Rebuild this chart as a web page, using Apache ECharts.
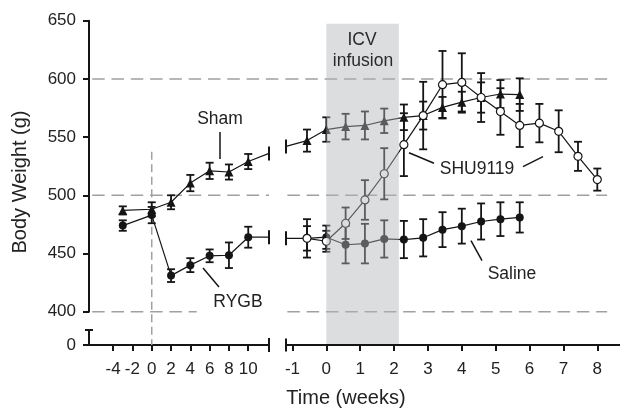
<!DOCTYPE html>
<html><head><meta charset="utf-8">
<script src="https://cdn.jsdelivr.net/npm/echarts@6/dist/echarts.min.js"></script>
<style>html,body{margin:0;padding:0;background:#fff}#c{width:620px;height:408px}</style>
</head><body><div id="c"></div>
<script>
// ---------------- data ----------------
const leftWeeks   = [-3, 0, 2, 4, 6, 8, 10];
const shamLeft    = [487, 488, 494, 510.5, 521, 520, 529];
const shamLeftErr = [3.5, 6, 6, 7, 7, 6.5, 6.5];
const rygbLeft    = [474, 483, 431, 440, 448, 448.5, 464];
const rygbLeftErr = [4.5, 7, 5.5, 6, 5.5, 11, 9];
const shamLeftEdge = 536, rygbLeftEdge = 464;

const rightWeeks     = [-0.57, 0, 0.57, 1.14, 1.71, 2.29, 2.86, 3.43, 4, 4.57, 5.14, 5.71, 6.29, 6.86, 7.43, 8];
const shamRight      = [547, 556.5, 559, 560, 564, 567, 568.5, 575.5, 580, 584, 587, 586.5];
const shamRightErr   = [9.5, 10.5, 11, 12, 10.5, 11, 12, 9, 9, 13, 12, 14];
const salineRight    = [463, 464, 457.5, 458.5, 462.5, 462, 463.5, 470.5, 473.5, 477.5, 479.5, 481];
const salineRightErr = [10.5, 10, 16, 17, 16, 16, 16, 15, 15, 15.5, 14.5, 13];
const shuRight       = [463, 460.5, 476, 496, 518.5, 543.5, 568.5, 595, 597, 584, 572, 560, 562, 555, 533.5, 513.5];
const shuRightErr    = [16.5, 9, 13.5, 17, 22, 27, 29, 29, 25, 21, 20, 18.5, 16.5, 18, 12.5, 9.5];
const shamRightEdge = 542, rygbRightEdge = 463;

const leftTicks  = [-4, -2, 0, 2, 4, 6, 8, 10];
const rightTicks = [-1, 0, 1, 2, 3, 4, 5, 6, 7, 8];
const refLines   = [400, 500, 600];
const surgeryWeek = 0, surgeryLineTop = 537.5;
const icvStart = 0, icvEnd = 2.14, icvTop = 647.4;

// ---------------- layout ----------------
const X0MIN = -6.5, X0MAX = 12.15, X1MIN = -1.19, X1MAX = 8.67;
const FONT = "'Liberation Sans', Arial, Helvetica, sans-serif";
const INK = '#151515', TXT = '#222', GRIDC = '#a0a0a0';
const TOP = 20.7, MIDH = 291, LOWTOP = 330, LOWH = 15;
const GAP = (LOWTOP + LOWH) - (TOP + MIDH);

const chart = echarts.init(document.getElementById('c'), null, {renderer: 'canvas'});

function pairs(xs, ys) { return ys.map((v, i) => [xs[i], v]); }

function segSeries(xi, yi, segs, style, z) {
  return {type: 'custom', xAxisIndex: xi, yAxisIndex: yi, z: z, silent: true, clip: false, animation: false,
    data: segs,
    renderItem: function (p, api) {
      const a = api.coord([api.value(0), api.value(1)]);
      const b = api.coord([api.value(2), api.value(3)]);
      return {type: 'line', shape: {x1: a[0], y1: a[1], x2: b[0], y2: b[1]}, style: style};
    }};
}
function capSeries(xi, yi, pts, dir, half, z) {
  return {type: 'custom', xAxisIndex: xi, yAxisIndex: yi, z: z, silent: true, clip: false, animation: false,
    data: pts,
    renderItem: function (p, api) {
      const c = api.coord([api.value(0), api.value(1)]);
      const shape = dir === 'v' ? {x1: c[0], y1: c[1] - half, x2: c[0], y2: c[1] + half}
                                : {x1: c[0] - half, y1: c[1], x2: c[0] + half, y2: c[1]};
      return {type: 'line', shape: shape, style: {stroke: INK, lineWidth: 2}};
    }};
}
function errSeries(xi, yi, xs, ys, es) {
  return {type: 'custom', xAxisIndex: xi, yAxisIndex: yi, z: 3, silent: true, animation: false,
    data: ys.map((v, i) => [xs[i], v, es[i]]),
    renderItem: function (p, api) {
      const x = api.value(0), y = api.value(1), e = api.value(2);
      const t = api.coord([x, y + e]), b = api.coord([x, y - e]);
      const w = 4, st = {stroke: INK, lineWidth: 1.8};
      return {type: 'group', children: [
        {type: 'line', shape: {x1: t[0], y1: t[1], x2: b[0], y2: b[1]}, style: st},
        {type: 'line', shape: {x1: t[0] - w, y1: t[1], x2: t[0] + w, y2: t[1]}, style: st},
        {type: 'line', shape: {x1: b[0] - w, y1: b[1], x2: b[0] + w, y2: b[1]}, style: st}
      ]};
    }};
}
function lineSeries(xi, yi, data, symbol, open) {
  return {type: 'line', xAxisIndex: xi, yAxisIndex: yi, data: data, z: 4, silent: true, animation: false,
    symbol: symbol, symbolSize: symbol === 'triangle' ? 9 : 8,
    lineStyle: {color: INK, width: 1.2},
    itemStyle: open ? {color: '#fff', borderColor: INK, borderWidth: 1.2} : {color: INK, borderWidth: 0}};
}
const dash = {stroke: GRIDC, lineWidth: 1.5, lineDash: [12.5, 6.8]};
const axisLineSt = {color: INK, width: 2};
const lab = {color: TXT, fontSize: 17, fontFamily: FONT};

const leftRef = [
  [-6.17, refLines[2], 13.9, refLines[2]],
  [-6.17, refLines[1], X0MAX, refLines[1]],
  [-6.17, refLines[0], 4.66, refLines[0]]
];
const rightRef = [
  [X1MIN, refLines[2], 8.29, refLines[2]],
  [-1.15, refLines[1], 8.29, refLines[1]],
  [-1.15, refLines[0], 8.29, refLines[0]]
];

const option = {
  backgroundColor: '#fff',
  animation: false,
  grid: [
    {left: 89, top: TOP, width: 180, height: MIDH, containLabel: false, outerBoundsMode: 'none'},
    {left: 89, top: LOWTOP, width: 180, height: LOWH, containLabel: false, outerBoundsMode: 'none'},
    {left: 286, top: TOP, width: 334, height: MIDH, containLabel: false, outerBoundsMode: 'none'},
    {left: 286, top: LOWTOP, width: 334, height: LOWH, containLabel: false, outerBoundsMode: 'none'}
  ],
  xAxis: [
    {gridIndex: 0, type: 'value', min: X0MIN, max: X0MAX, show: false},
    {gridIndex: 1, type: 'value', min: X0MIN, max: X0MAX, position: 'bottom',
     axisLine: {show: true, onZero: false, lineStyle: axisLineSt},
     axisTick: {show: true, length: 6, lineStyle: axisLineSt, customValues: leftTicks},
     axisLabel: Object.assign({customValues: leftTicks, margin: 16}, lab),
     splitLine: {show: false}},
    {gridIndex: 2, type: 'value', min: X1MIN, max: X1MAX, show: false},
    {gridIndex: 3, type: 'value', min: X1MIN, max: X1MAX, position: 'bottom',
     axisLine: {show: true, onZero: false, lineStyle: axisLineSt},
     axisTick: {show: true, length: 6, lineStyle: axisLineSt, customValues: rightTicks},
     axisLabel: Object.assign({customValues: rightTicks, margin: 16}, lab),
     splitLine: {show: false}}
  ],
  yAxis: [
    {gridIndex: 0, type: 'value', min: 400, max: 650, interval: 50,
     axisLine: {show: true, onZero: false, lineStyle: axisLineSt},
     axisTick: {show: true, length: 6, lineStyle: axisLineSt},
     axisLabel: Object.assign({margin: 13}, lab), splitLine: {show: false}},
    {gridIndex: 1, type: 'value', min: 0, max: 1,
     axisLine: {show: true, onZero: false, lineStyle: axisLineSt},
     axisTick: {show: true, length: 6, lineStyle: axisLineSt, customValues: [0]},
     axisLabel: Object.assign({customValues: [0], margin: 13}, lab), splitLine: {show: false}},
    {gridIndex: 2, type: 'value', min: 400, max: 650, show: false},
    {gridIndex: 3, type: 'value', min: 0, max: 1, show: false}
  ],
  series: [
    segSeries(0, 0, leftRef, dash, 1),
    segSeries(2, 2, rightRef, dash, 1),
    {type: 'custom', xAxisIndex: 0, yAxisIndex: 0, z: 1, silent: true, clip: false, animation: false,
     data: [[surgeryWeek, surgeryLineTop]],
     renderItem: function (p, api) {
       const a = api.coord([api.value(0), api.value(1)]);
       const b = api.coord([api.value(0), 400]);
       return {type: 'line', shape: {x1: a[0], y1: a[1], x2: b[0], y2: b[1] + GAP},
               style: {stroke: GRIDC, lineWidth: 1.5, lineDash: [8, 4.5]}};
     }},
    errSeries(0, 0, leftWeeks, shamLeft, shamLeftErr),
    errSeries(0, 0, leftWeeks, rygbLeft, rygbLeftErr),
    errSeries(2, 2, rightWeeks, shamRight, shamRightErr),
    errSeries(2, 2, rightWeeks, salineRight, salineRightErr),
    errSeries(2, 2, rightWeeks, shuRight, shuRightErr),
    lineSeries(0, 0, pairs(leftWeeks, shamLeft).concat([{value: [X0MAX, shamLeftEdge], symbol: 'none'}]), 'triangle'),
    lineSeries(0, 0, pairs(leftWeeks, rygbLeft).concat([{value: [X0MAX, rygbLeftEdge], symbol: 'none'}]), 'circle'),
    lineSeries(2, 2, [{value: [X1MIN, shamRightEdge], symbol: 'none'}].concat(pairs(rightWeeks, shamRight)), 'triangle'),
    lineSeries(2, 2, [{value: [X1MIN, rygbRightEdge], symbol: 'none'}].concat(pairs(rightWeeks, salineRight)), 'circle'),
    lineSeries(2, 2, pairs(rightWeeks, shuRight), 'circle', true),
    capSeries(0, 0, [[X0MAX, shamLeftEdge], [X0MAX, rygbLeftEdge]], 'v', 7, 5),
    capSeries(2, 2, [[X1MIN, shamRightEdge], [X1MIN, rygbRightEdge]], 'v', 7, 5),
    capSeries(1, 1, [[X0MAX, 0]], 'v', 7, 5),
    capSeries(3, 3, [[X1MIN, 0]], 'v', 6.5, 5),
    capSeries(1, 1, [[X0MIN, 1]], 'h', 4, 5),
    {type: 'custom', xAxisIndex: 2, yAxisIndex: 2, z: 6, silent: true, clip: false, animation: false,
     data: [[icvStart, icvEnd, icvTop]],
     renderItem: function (p, api) {
       const a = api.coord([api.value(0), api.value(2)]);
       const b = api.coord([api.value(1), 400]);
       return {type: 'rect', shape: {x: a[0], y: a[1], width: b[0] - a[0], height: b[1] + GAP - 1 - a[1]},
               style: {fill: 'rgba(178,179,184,0.45)'}};
     }}
  ],
  graphic: [
    {type: 'text', z: 100, x: 20, y: 182, rotation: Math.PI / 2,
     style: {text: 'Body Weight (g)', fill: TXT, font: '20px ' + FONT, align: 'center', verticalAlign: 'middle', textAlign: 'center', textVerticalAlign: 'middle'}},
    {type: 'text', z: 100, x: 346, y: 398,
     style: {text: 'Time (weeks)', fill: TXT, font: '20px ' + FONT, align: 'center', verticalAlign: 'middle', textAlign: 'center', textVerticalAlign: 'middle'}},
    {type: 'text', z: 100, x: 220, y: 119,
     style: {text: 'Sham', fill: TXT, font: '17.5px ' + FONT, align: 'center', verticalAlign: 'middle', textAlign: 'center', textVerticalAlign: 'middle'}},
    {type: 'line', z: 100, shape: {x1: 220, y1: 132, x2: 220, y2: 159}, style: {stroke: INK, lineWidth: 1.5}},
    {type: 'text', z: 100, x: 238, y: 302,
     style: {text: 'RYGB', fill: TXT, font: '17.5px ' + FONT, align: 'center', verticalAlign: 'middle', textAlign: 'center', textVerticalAlign: 'middle'}},
    {type: 'line', z: 100, shape: {x1: 203, y1: 268, x2: 219, y2: 287}, style: {stroke: INK, lineWidth: 1.5}},
    {type: 'text', z: 100, x: 477, y: 169,
     style: {text: 'SHU9119', fill: TXT, font: '17.5px ' + FONT, align: 'center', verticalAlign: 'middle', textAlign: 'center', textVerticalAlign: 'middle'}},
    {type: 'line', z: 100, shape: {x1: 409, y1: 152.7, x2: 434, y2: 163.3}, style: {stroke: INK, lineWidth: 1.5}},
    {type: 'line', z: 100, shape: {x1: 523, y1: 166.7, x2: 543, y2: 156.7}, style: {stroke: INK, lineWidth: 1.5}},
    {type: 'text', z: 100, x: 512, y: 274,
     style: {text: 'Saline', fill: TXT, font: '17.5px ' + FONT, align: 'center', verticalAlign: 'middle', textAlign: 'center', textVerticalAlign: 'middle'}},
    {type: 'line', z: 100, shape: {x1: 471, y1: 240.7, x2: 482, y2: 260.7}, style: {stroke: INK, lineWidth: 1.5}},
    {type: 'text', z: 100, x: 362, y: 40,
     style: {text: 'ICV', fill: '#2a2a2a', font: '17.5px ' + FONT, align: 'center', verticalAlign: 'middle', textAlign: 'center', textVerticalAlign: 'middle'}},
    {type: 'text', z: 100, x: 363, y: 61,
     style: {text: 'infusion', fill: '#2a2a2a', font: '17.5px ' + FONT, align: 'center', verticalAlign: 'middle', textAlign: 'center', textVerticalAlign: 'middle'}}
  ]
};
chart.setOption(option);
</script>
</body></html>
